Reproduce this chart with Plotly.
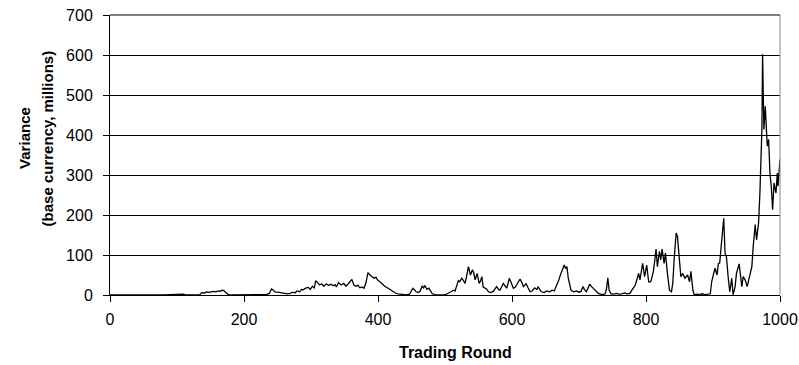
import plotly.graph_objects as go

rounds = [0, 10, 20, 30, 40, 50, 60, 70, 80, 90, 99, 103, 109, 113, 120, 128, 134, 137, 141, 144,
          148, 154, 158, 162, 165, 167, 170, 172, 175, 177, 185, 194, 198, 205, 212, 220, 227, 234, 238, 241,
          244, 246, 250, 254, 258, 261, 265, 269, 273, 276, 279, 283, 286, 288, 292, 296, 299, 302, 305, 307,
          310, 313, 316, 319, 323, 326, 330, 333, 336, 338, 341, 345, 349, 352, 355, 358, 361, 364, 367, 370,
          373, 376, 379, 382, 385, 388, 391, 394, 397, 400, 403, 406, 410, 414, 418, 422, 426, 430, 434, 438,
          442, 447, 450, 452, 455, 457, 460, 463, 466, 468, 470, 473, 476, 478, 481, 485, 490, 495, 500, 502,
          506, 510, 513, 515, 518, 520, 522, 525, 528, 530, 532, 535, 538, 541, 543, 545, 548, 551, 553, 555,
          557, 560, 562, 565, 568, 572, 575, 577, 580, 582, 585, 587, 590, 592, 594, 596, 599, 602, 605, 607,
          610, 612, 615, 617, 619, 621, 624, 627, 630, 634, 637, 639, 642, 644, 648, 652, 656, 660, 663, 667,
          670, 673, 676, 678, 680, 682, 684, 686, 688, 692, 696, 700, 703, 706, 708, 711, 713, 716, 718, 721,
          724, 726, 729, 732, 736, 739, 741, 743, 745, 748, 752, 756, 760, 764, 768, 772, 776, 779, 782, 784,
          787, 789, 791, 793, 795, 798, 801, 804, 807, 809, 811, 813, 815, 817, 820, 822, 824, 827, 829, 832,
          835, 838, 840, 842, 845, 847, 850, 852, 855, 858, 862, 865, 867, 870, 872, 876, 880, 884, 888, 892,
          896, 898, 900, 903, 906, 908, 910, 913, 916, 918, 920, 923, 925, 928, 930, 933, 935, 939, 943, 945,
          948, 951, 955, 958, 960, 963, 965, 968, 970, 973, 974, 976, 978, 979, 981, 983, 985, 987, 989, 991,
          994, 996, 997, 1000]

variance = [0, 0.3, 0.2, 0.4, 0.2, 0.3, 0.2, 0.4, 0.3, 0.5, 1.5, 2.5, 2, 0.5, 0.3, 0.5, 1, 6, 5, 7.5,
            6.5, 9, 8, 10, 9, 12, 11, 7.5, 3, 0.5, 0.3, 0.5, 1.5, 1, 2, 1, 2, 1.5, 4, 15,
            12, 8, 7, 6, 4, 2.5, 3, 4, 7, 5, 10, 8, 14, 12.5, 17, 19, 14, 22, 18, 36,
            30, 25, 28, 22, 28, 24, 27, 23, 26, 20, 31, 25, 29, 22, 27, 33, 39, 25, 22, 24,
            18, 20, 17, 30, 56, 50, 46, 42, 44, 36, 33, 28, 22, 18, 14, 8, 5, 3, 2, 1,
            0.5, 2, 10, 17, 12, 8, 6, 10, 23, 18, 23, 14, 17, 10, 3, 1, 0.5, 0.3, 0.5, 2,
            5, 8, 12, 10, 29, 36, 33, 42, 35, 29, 45, 71, 50, 63, 55, 38, 54, 29, 35, 46,
            20, 17, 15, 8, 6, 9, 15, 21, 14, 12, 22, 29, 22, 17, 28, 42, 30, 17, 20, 25,
            32, 40, 30, 21, 24, 29, 18, 8, 10, 18, 14, 20, 12, 8, 6, 10, 8, 12, 10, 25,
            38, 54, 68, 75, 66, 71, 42, 25, 12, 8, 10, 7, 9, 21, 14, 8, 15, 27, 22, 17,
            12, 8, 4, 2, 1, 3, 15, 43, 12, 3, 2, 4, 2, 3, 5, 3, 4, 12, 20, 25,
            42, 54, 38, 60, 79, 46, 75, 33, 33, 45, 59, 85, 115, 71, 109, 88, 115, 79, 105, 54,
            12, 8, 30, 88, 155, 146, 88, 46, 54, 42, 50, 33, 59, 12, 0.5, 2, 1, 3, 1, 2,
            3, 33, 46, 67, 50, 79, 80, 146, 192, 104, 96, 38, 8, 42, 0.5, 21, 54, 78, 21, 46,
            38, 21, 54, 71, 121, 176, 138, 180, 255, 414, 602, 414, 472, 439, 372, 389, 305, 272, 213, 280,
            255, 305, 272, 339]

x_ticks = [0, 200, 400, 600, 800, 1000]
y_ticks = [0, 100, 200, 300, 400, 500, 600, 700]

x_title = "Trading Round"
y_title_lines = ["Variance", "(base currency, millions)"]

FONT = "Liberation Sans, Arial, sans-serif"

fig = go.Figure()
fig.add_trace(go.Scatter(x=rounds, y=variance, mode="lines",
                         line=dict(color="black", width=1.3), showlegend=False,
                         hoverinfo="skip"))

fig.update_layout(
    width=799, height=365,
    margin=dict(l=110, r=19, t=15, b=70),
    paper_bgcolor="white", plot_bgcolor="white",
    font=dict(family=FONT, size=16, color="black"),
    xaxis=dict(range=[0, 1000], tickvals=x_ticks, ticktext=[str(v) for v in x_ticks],
               showgrid=False, zeroline=False, showline=True, linecolor="black", linewidth=1,
               ticks="outside", ticklen=6, tickcolor="black", ticklabelstandoff=4,
               tickfont=dict(size=16), automargin=False),
    yaxis=dict(range=[0, 700], tickvals=y_ticks, ticktext=[str(v) for v in y_ticks],
               showgrid=True, gridcolor="black", gridwidth=1, zeroline=False,
               showline=True, linecolor="black", linewidth=1,
               ticks="outside", ticklen=6, tickcolor="black", ticklabelstandoff=7,
               tickfont=dict(size=16), automargin=False),
    annotations=[
        dict(text="<b>" + y_title_lines[0] + "</b>", xref="paper", yref="paper",
             x=-0.1269, y=0.561, xanchor="center", yanchor="middle", textangle=-90,
             showarrow=False, font=dict(size=15)),
        dict(text="<b>" + y_title_lines[1] + "</b>", xref="paper", yref="paper",
             x=-0.0933, y=0.561, xanchor="center", yanchor="middle", textangle=-90,
             showarrow=False, font=dict(size=15)),
        dict(text="<b>" + x_title + "</b>", xref="paper", yref="paper",
             x=0.515, y=-0.207, xanchor="center", yanchor="middle",
             showarrow=False, font=dict(size=16)),
    ],
    shapes=[dict(type="line", xref="paper", yref="paper", x0=1, x1=1, y0=0, y1=1,
                 line=dict(color="#888888", width=1)),
            dict(type="line", xref="paper", yref="paper", x0=0, x1=1, y0=1, y1=1,
                 line=dict(color="black", width=1))],
)

fig.write_html("out.html")
